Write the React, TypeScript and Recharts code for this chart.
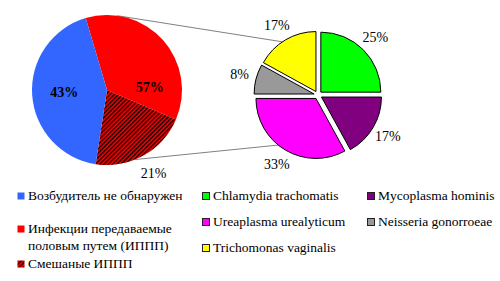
import { PieChart, Pie, Cell, Customized } from "recharts";

// left pie: clockwise from the red slice
const LEFT_NAMES = ["Инфекции передаваемые половым путем (ИППП)", "Смешаные ИППП", "Возбудитель не обнаружен"];
const LEFT_VALUES = [36, 21, 43];
const LEFT_COLORS = ["#ff0000", "url(#hatch)", "#3366ff"];
// overall split: all ИППП vs nothing found
const SPLIT_NAMES = ["ИППП", "Возбудитель не обнаружен"];
const SPLIT_VALUES = [57, 43];

// right pie: breakdown of ИППП agents, clockwise from top
const RIGHT_NAMES = [
  "Chlamydia trachomatis",
  "Mycoplasma hominis",
  "Ureaplasma urealyticum",
  "Neisseria gonorroeae",
  "Trichomonas vaginalis",
];
const RIGHT_VALUES = [25, 17, 33, 8, 17];
const RIGHT_COLORS = ["#00ff00", "#800080", "#ff00ff", "#999999", "#ffff00"];

const FONT = "'Liberation Serif', 'Times New Roman', serif";
const RAD = Math.PI / 180;

const L_CX = 107;
const L_CY = 90;
const L_R = 75;
const L_START = 106.5;
const R_CX = 318;
const R_CY = 95;
const R_R = 60;
const EXPLODE = 4;

const leftData = LEFT_NAMES.map((name, i) => ({ name, value: LEFT_VALUES[i] }));
const splitData = SPLIT_NAMES.map((name, i) => ({ name, value: SPLIT_VALUES[i] }));
const rightData = RIGHT_NAMES.map((name, i) => ({ name, value: RIGHT_VALUES[i] }));

const rightTotal = RIGHT_VALUES.reduce((a, b) => a + b, 0);
// mid angle of each right slice, degrees clockwise from 12 o'clock
const rightMids = RIGHT_VALUES.map((v, i) => {
  const before = RIGHT_VALUES.slice(0, i).reduce((a, b) => a + b, 0);
  return ((before + v / 2) / rightTotal) * 360;
});

// point on a circle, angle clockwise from 12 o'clock
const clock = (cx: number, cy: number, r: number, deg: number) => ({
  x: cx + r * Math.sin(deg * RAD),
  y: cy - r * Math.cos(deg * RAD),
});

const labelAt = (props: any, r: number, text: string, bold = false) => {
  const x = props.cx + r * Math.cos(-props.midAngle * RAD);
  const y = props.cy + r * Math.sin(-props.midAngle * RAD);
  return (
    <text
      x={x}
      y={y}
      textAnchor="middle"
      dominantBaseline="central"
      style={{ fontFamily: FONT }}
      fontSize={14}
      fontWeight={bold ? "bold" : "normal"}
      fill="#000"
    >
      {text}
    </text>
  );
};

function Connectors() {
  const yellowC = clock(R_CX, R_CY, EXPLODE, rightMids[4]);
  const magentaC = clock(R_CX, R_CY, EXPLODE, rightMids[2]);
  const a1 = clock(L_CX, L_CY, L_R, 8);
  const b1 = clock(yellowC.x, yellowC.y, R_R, 326);
  const a2 = clock(L_CX, L_CY, L_R, 158);
  const b2 = clock(magentaC.x, magentaC.y, R_R, 219);
  return (
    <g stroke="#808080" strokeWidth={1}>
      <line x1={a1.x} y1={a1.y} x2={b1.x} y2={b1.y} />
      <line x1={a2.x} y1={a2.y} x2={b2.x} y2={b2.y} />
    </g>
  );
}

function Swatch({ color, border }: { color: string; border: boolean }) {
  return (
    <svg width={8} height={8} style={{ position: "absolute", left: 0, top: -4 }}>
      <defs>
        <pattern id="hatchSw" width={3} height={3} patternUnits="userSpaceOnUse" patternTransform="rotate(45)">
          <rect width={3} height={3} fill="#ff0000" />
          <rect width={1.3} height={3} fill="#000" />
        </pattern>
      </defs>
      <rect
        x={0.5}
        y={0.5}
        width={7}
        height={7}
        fill={color === "url(#hatch)" ? "url(#hatchSw)" : color}
        stroke={border ? "#222" : "none"}
      />
    </svg>
  );
}

const LEGEND = [
  { name: LEFT_NAMES[2], color: LEFT_COLORS[2], x: 17, y: 196, border: false },
  { name: "Инфекции передаваемые\nполовым путем (ИППП)", color: LEFT_COLORS[0], x: 17, y: 229, border: false },
  { name: LEFT_NAMES[1], color: LEFT_COLORS[1], x: 17, y: 264, border: false },
  { name: RIGHT_NAMES[0], color: RIGHT_COLORS[0], x: 202, y: 196, border: true },
  { name: RIGHT_NAMES[2], color: RIGHT_COLORS[2], x: 202, y: 222, border: true },
  { name: RIGHT_NAMES[4], color: RIGHT_COLORS[4], x: 202, y: 248, border: true },
  { name: RIGHT_NAMES[1], color: RIGHT_COLORS[1], x: 367, y: 196, border: true },
  { name: RIGHT_NAMES[3], color: RIGHT_COLORS[3], x: 367, y: 222, border: true },
];

export default function App() {
  return (
    <div style={{ position: "absolute", left: 0, top: 0, width: 500, height: 281, background: "#fff", fontFamily: FONT }}>
      <PieChart width={500} height={281} margin={{ top: 0, right: 0, bottom: 0, left: 0 }}>
        <defs>
          <pattern id="hatch" width={3} height={3} patternUnits="userSpaceOnUse" patternTransform="rotate(45)">
            <rect width={3} height={3} fill="#ff0000" />
            <rect width={1.3} height={3} fill="#000" />
          </pattern>
        </defs>
        <Customized component={<Connectors />} />
        <Pie
          data={leftData}
          dataKey="value"
          cx={L_CX}
          cy={L_CY}
          outerRadius={L_R}
          startAngle={L_START}
          endAngle={L_START - 360}
          stroke="none"
          isAnimationActive={false}
          labelLine={false}
          label={(p: any) => (p.index === 1 ? labelAt(p, L_R + 21, `${p.value}%`) : null)}
        >
          {leftData.map((_, i) => (
            <Cell key={i} fill={LEFT_COLORS[i]} />
          ))}
        </Pie>
        <Pie
          data={splitData}
          dataKey="value"
          cx={L_CX}
          cy={L_CY}
          outerRadius={L_R}
          startAngle={L_START}
          endAngle={L_START - 360}
          fill="none"
          stroke="none"
          isAnimationActive={false}
          labelLine={false}
          label={(p: any) => labelAt(p, L_R * 0.57, `${p.value}%`, true)}
        />
        {rightData.map((_, k) => {
          const off = clock(R_CX, R_CY, EXPLODE, rightMids[k]);
          return (
            <Pie
              key={k}
              data={rightData}
              dataKey="value"
              cx={off.x}
              cy={off.y}
              outerRadius={R_R}
              startAngle={90}
              endAngle={-270}
              isAnimationActive={false}
              labelLine={false}
              label={(p: any) => (p.index === k ? labelAt(p, R_R + 17, `${p.value}%`) : null)}
            >
              {rightData.map((__, i) => (
                <Cell
                  key={i}
                  fill={i === k ? RIGHT_COLORS[i] : "none"}
                  stroke={i === k ? "#000" : "none"}
                  strokeWidth={1}
                />
              ))}
            </Pie>
          );
        })}
      </PieChart>
      {LEGEND.map((item, i) => (
        <div key={i} style={{ position: "absolute", left: item.x, top: item.y }}>
          <Swatch color={item.color} border={item.border} />
          <div
            style={{
              position: "absolute",
              left: 11,
              top: -9,
              whiteSpace: "pre",
              fontFamily: FONT,
              fontSize: 13.5,
              lineHeight: "17px",
              color: "#000",
            }}
          >
            {item.name}
          </div>
        </div>
      ))}
    </div>
  );
}
